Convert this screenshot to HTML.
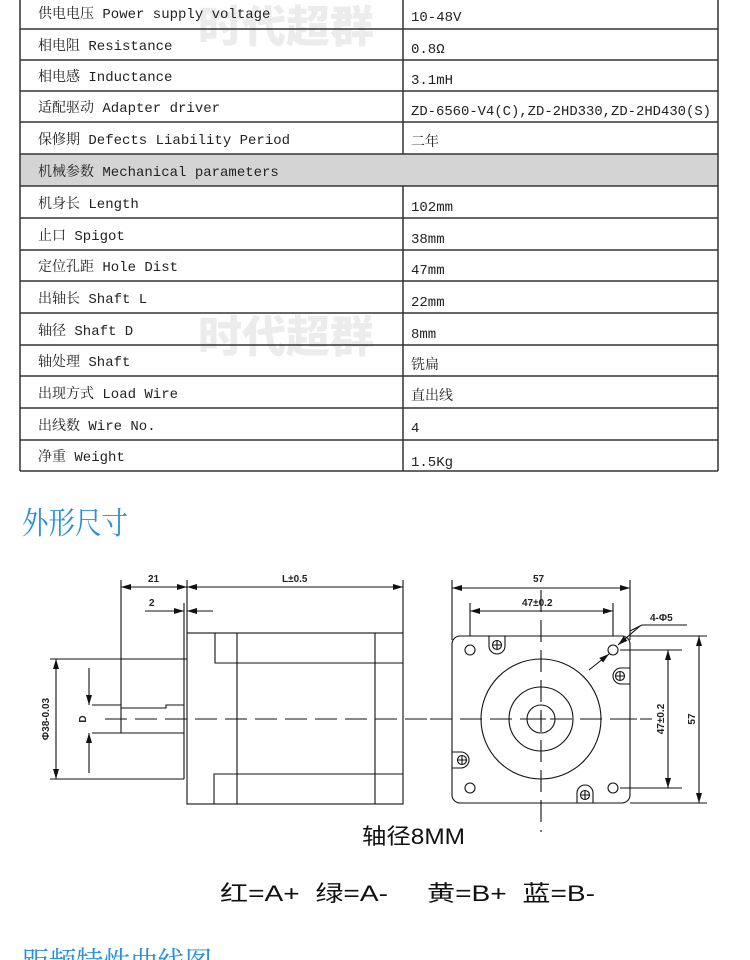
<!DOCTYPE html>
<html><head><meta charset="utf-8"><style>
html,body{margin:0;padding:0;background:#fff;width:750px;height:960px;overflow:hidden}
svg{display:block}
.t{font-family:"Liberation Mono","Noto Serif CJK SC",monospace;font-size:14px;fill:#222}
.d{font-family:"Liberation Sans",sans-serif;font-size:10px;fill:#222;font-weight:bold}
.h{font-family:"Liberation Serif","Noto Serif CJK SC",serif;font-size:31px;fill:#2a8fd8}
.s{font-family:"Liberation Sans","Noto Sans CJK SC",sans-serif;font-size:22px;fill:#111}
</style></head><body>
<svg width="750" height="960" viewBox="0 0 750 960" xmlns="http://www.w3.org/2000/svg">
<defs>
<marker id="a" viewBox="0 0 10 6" refX="10" refY="3" markerWidth="10" markerHeight="6" orient="auto-start-reverse" markerUnits="userSpaceOnUse"><path d="M0,0L10,3L0,6z" fill="#111"/></marker>
</defs>
<g font-family="Noto Sans CJK SC,sans-serif" font-size="44" font-weight="900" fill="#ececec">
<text x="198" y="42">时代超群</text>
<text x="198" y="352">时代超群</text>
</g>
<rect x="20" y="154" width="698" height="32" fill="#d4d4d4"/>
<g stroke="#333" stroke-width="1.5" fill="none">
<line x1="20" y1="-5" x2="20" y2="471"/><line x1="718" y1="-5" x2="718" y2="471"/>
<line x1="403" y1="-5" x2="403" y2="154"/><line x1="403" y1="186" x2="403" y2="471"/>
<line x1="20" y1="29" x2="718" y2="29"/><line x1="20" y1="60" x2="718" y2="60"/>
<line x1="20" y1="91" x2="718" y2="91"/><line x1="20" y1="122" x2="718" y2="122"/>
<line x1="20" y1="154" x2="718" y2="154"/><line x1="20" y1="186" x2="718" y2="186"/>
<line x1="20" y1="218" x2="718" y2="218"/><line x1="20" y1="250" x2="718" y2="250"/>
<line x1="20" y1="281" x2="718" y2="281"/><line x1="20" y1="313" x2="718" y2="313"/>
<line x1="20" y1="345" x2="718" y2="345"/><line x1="20" y1="376" x2="718" y2="376"/>
<line x1="20" y1="408" x2="718" y2="408"/><line x1="20" y1="440" x2="718" y2="440"/>
<line x1="20" y1="471" x2="718" y2="471"/>
</g>
<g class="t">
<text x="38" y="18">供电电压 Power supply voltage</text><text x="411" y="21">10-48V</text>
<text x="38" y="50">相电阻 Resistance</text><text x="411" y="53">0.8Ω</text>
<text x="38" y="81">相电感 Inductance</text><text x="411" y="84">3.1mH</text>
<text x="38" y="112">适配驱动 Adapter driver</text><text x="411" y="115" textLength="300" lengthAdjust="spacingAndGlyphs">ZD-6560-V4(C),ZD-2HD330,ZD-2HD430(S)</text>
<text x="38" y="144">保修期 Defects Liability Period</text><text x="411" y="146">二年</text>
<text x="38" y="176">机械参数 Mechanical parameters</text>
<text x="38" y="208">机身长 Length</text><text x="411" y="211">102mm</text>
<text x="38" y="240">止口 Spigot</text><text x="411" y="243">38mm</text>
<text x="38" y="271">定位孔距 Hole Dist</text><text x="411" y="274">47mm</text>
<text x="38" y="303">出轴长 Shaft L</text><text x="411" y="306">22mm</text>
<text x="38" y="335">轴径 Shaft D</text><text x="411" y="338">8mm</text>
<text x="38" y="366">轴处理 Shaft</text><text x="411" y="369">铣扁</text>
<text x="38" y="398">出现方式 Load Wire</text><text x="411" y="400">直出线</text>
<text x="38" y="430">出线数 Wire No.</text><text x="411" y="432">4</text>
<text x="38" y="461">净重 Weight</text><text x="411" y="466">1.5Kg</text>
</g>
<text class="h" x="22" y="534" textLength="106" lengthAdjust="spacingAndGlyphs">外形尺寸</text>
<g stroke="#111" stroke-width="1.1" fill="none">
<line x1="121" y1="580" x2="121" y2="733"/>
<line x1="187" y1="580" x2="187" y2="633"/>
<line x1="403" y1="580" x2="403" y2="633"/>
<line x1="121" y1="587" x2="187" y2="587" marker-start="url(#a)" marker-end="url(#a)"/>
<line x1="187" y1="587" x2="403" y2="587" marker-start="url(#a)" marker-end="url(#a)"/>
<line x1="145" y1="611" x2="184" y2="611" marker-end="url(#a)"/>
<line x1="213" y1="611" x2="187" y2="611" marker-end="url(#a)"/>
<line x1="184" y1="603" x2="184" y2="779"/>
<rect x="187" y="633" width="216" height="171"/>
<polyline points="215,633 215,663 403,663"/>
<line x1="237" y1="633" x2="237" y2="804"/>
<line x1="375" y1="633" x2="375" y2="804"/>
<polyline points="214,804 214,774 403,774"/>
<line x1="50" y1="659" x2="187" y2="659"/>
<line x1="50" y1="779" x2="184" y2="779"/>
<line x1="56" y1="659" x2="56" y2="779" marker-start="url(#a)" marker-end="url(#a)"/>
<polyline points="121,708 166,708 166,705 184,705"/>
<line x1="121" y1="733" x2="184" y2="733"/>
<line x1="92" y1="705" x2="121" y2="705"/>
<line x1="92" y1="733" x2="121" y2="733"/>
<line x1="89" y1="668" x2="89" y2="705" marker-end="url(#a)"/>
<line x1="89" y1="773" x2="89" y2="733" marker-end="url(#a)"/>
<line x1="105" y1="719" x2="652" y2="719" stroke-dasharray="22,8"/>
<line x1="452" y1="580" x2="452" y2="640"/>
<line x1="630" y1="580" x2="630" y2="640"/>
<line x1="452" y1="588" x2="630" y2="588" marker-start="url(#a)" marker-end="url(#a)"/>
<line x1="470" y1="603" x2="470" y2="645"/>
<line x1="613" y1="603" x2="613" y2="645"/>
<line x1="470" y1="611" x2="613" y2="611" marker-start="url(#a)" marker-end="url(#a)"/>
<rect x="452" y="636" width="178" height="167" rx="8" fill="#fff"/>
<line x1="541" y1="590" x2="541" y2="832" stroke-dasharray="22,8"/>
<line x1="430" y1="719" x2="652" y2="719" stroke-dasharray="22,8"/>
<circle cx="541" cy="719" r="60"/>
<circle cx="541" cy="719" r="32"/>
<circle cx="541" cy="719" r="14"/>
<path d="M536,719h10M541,714v10"/>
<circle cx="470" cy="650" r="5"/><circle cx="613" cy="650" r="5"/>
<circle cx="470" cy="788" r="5"/><circle cx="613" cy="788" r="5"/>
<path d="M489,636v10a8,8 0 0 0 16,0v-10"/><circle cx="497" cy="645" r="4.5"/><path d="M492.5,645h9M497,640.5v9"/>
<path d="M630,668h-9a8,8 0 0 0 0,16h9"/><circle cx="620" cy="676" r="4.5"/><path d="M615.5,676h9M620,671.5v9"/>
<path d="M452,752h9a8,8 0 0 1 0,16h-9"/><circle cx="462" cy="760" r="4.5"/><path d="M457.5,760h9M462,755.5v9"/>
<path d="M577,803v-10a8,8 0 0 1 16,0v10"/><circle cx="585" cy="795" r="4.5"/><path d="M580.5,795h9M585,790.5v9"/>
<line x1="589" y1="670" x2="609" y2="654" marker-end="url(#a)"/>
<polyline points="630,631 642,625 687,625"/>
<line x1="640" y1="626" x2="618" y2="645" marker-end="url(#a)"/>
<line x1="620" y1="650" x2="682" y2="650"/>
<line x1="620" y1="788" x2="682" y2="788"/>
<line x1="668" y1="650" x2="668" y2="788" marker-start="url(#a)" marker-end="url(#a)"/>
<line x1="630" y1="636" x2="707" y2="636"/>
<line x1="630" y1="803" x2="707" y2="803"/>
<line x1="699" y1="636" x2="699" y2="803" marker-start="url(#a)" marker-end="url(#a)"/>
</g>
<g class="d">
<text x="148" y="582">21</text>
<text x="282" y="582">L±0.5</text>
<text x="149" y="606">2</text>
<text x="533" y="582">57</text>
<text x="522" y="606">47±0.2</text>
<text x="650" y="621">4-Φ5</text>
<text transform="translate(49,719) rotate(-90)" text-anchor="middle">Φ38-0.03</text>
<text transform="translate(86,719) rotate(-90)" text-anchor="middle">D</text>
<text transform="translate(664,719) rotate(-90)" text-anchor="middle">47±0.2</text>
<text transform="translate(695,719) rotate(-90)" text-anchor="middle">57</text>
</g>
<text class="s" x="362" y="844" textLength="103" lengthAdjust="spacingAndGlyphs">轴径8MM</text>
<text class="s" x="220" y="901" textLength="375" lengthAdjust="spacingAndGlyphs" xml:space="preserve">红=A+  绿=A-     黄=B+  蓝=B-</text>
<text class="h" x="22" y="974" textLength="190" lengthAdjust="spacingAndGlyphs">距频特性曲线图</text>
</svg>
</body></html>
